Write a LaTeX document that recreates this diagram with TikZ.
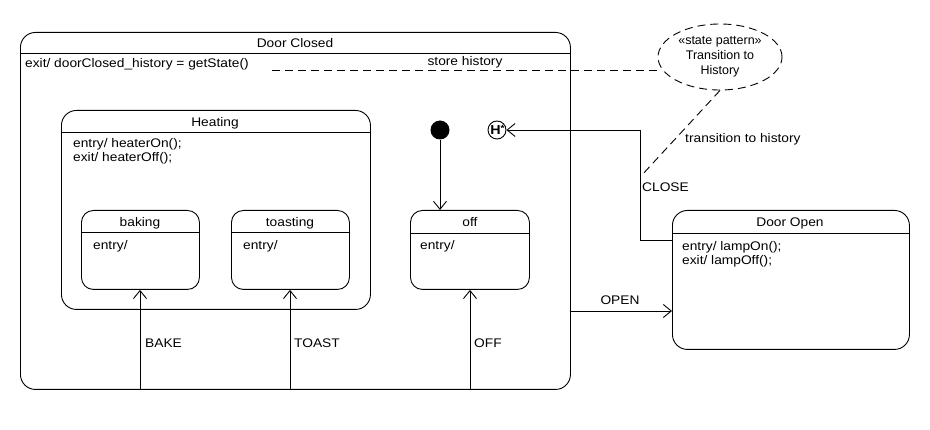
\documentclass[tikz,border=0pt]{standalone}
\usepackage{fontspec}
\setmainfont[FakeStretch=1.1]{Liberation Sans}
\newfontfamily\plainsans{Liberation Sans}
\usetikzlibrary{arrows.meta,shapes.geometric}
\begin{document}
\begin{tikzpicture}[x=1pt,y=-1pt,
  every node/.style={font=\fontsize{12.5}{14.5}\selectfont},
  box/.style={draw,line width=0.9pt,anchor=north west,inner sep=0pt},
  lbl/.style={inner sep=0pt,anchor=base west},
  ttl/.style={inner sep=0pt,anchor=base},
  ln/.style={line width=0.9pt},
  arr/.style={line width=0.9pt,-{Straight Barb[length=8pt,width=13pt,line width=0.9pt]}},
  dsh/.style={line width=0.9pt,dash pattern=on 8pt off 5pt}]
\useasboundingbox (0,0) rectangle (930,430);
% Door Closed
\node[box,rounded corners=15pt,minimum width=550pt,minimum height=357pt] (dc) at (20,32) {};
\draw[ln] ([yshift=-21pt]dc.north west) -- ([yshift=-21pt]dc.north east);
\node[ttl] (dct) at (295,47.5) {Door Closed};
\node[lbl] (dcx) at (25,67.5) {exit/ doorClosed\_history = getState()};
% Heating
\node[box,rounded corners=15pt,minimum width=309pt,minimum height=199pt] (heat) at (61,110) {};
\draw[ln] ([yshift=-22pt]heat.north west) -- ([yshift=-22pt]heat.north east);
\node[ttl] (heatt) at (215,126.5) {Heating};
\node[lbl] (heat1) at (73,147.5) {entry/ heaterOn();};
\node[lbl] (heat2) at (73,161.5) {exit/ heaterOff();};
% baking
\node[box,rounded corners=12pt,minimum width=118pt,minimum height=79pt] (bake) at (81,210) {};
\draw[ln] ([yshift=-22pt]bake.north west) -- ([yshift=-22pt]bake.north east);
\node[ttl] (baket) at (140,226.5) {baking};
\node[lbl] (bake1) at (93,249.5) {entry/};
% toasting
\node[box,rounded corners=12pt,minimum width=118pt,minimum height=79pt] (toast) at (231,210) {};
\draw[ln] ([yshift=-22pt]toast.north west) -- ([yshift=-22pt]toast.north east);
\node[ttl] (toastt) at (290,226.5) {toasting};
\node[lbl] (toast1) at (243,249.5) {entry/};
% off
\node[box,rounded corners=12pt,minimum width=119pt,minimum height=79pt] (off) at (410,210) {};
\draw[ln] ([yshift=-23pt]off.north west) -- ([yshift=-23pt]off.north east);
\node[ttl] (offt) at (470,226.5) {off};
\node[lbl] (off1) at (420,249.5) {entry/};
% Door Open
\node[box,rounded corners=15pt,minimum width=237pt,minimum height=139pt] (do) at (672,210) {};
\draw[ln] ([yshift=-23pt]do.north west) -- ([yshift=-23pt]do.north east);
\node[ttl] (dot) at (790,226.5) {Door Open};
\node[lbl] (do1) at (682,250.5) {entry/ lampOn();};
\node[lbl] (do2) at (682,264.5) {exit/ lampOff();};
% initial and history
\node[circle,fill=black,inner sep=0pt,minimum size=19pt] (init) at (440,130) {};
\node[circle,draw,line width=0.9pt,inner sep=0pt,minimum size=18pt,font=\fontsize{13}{13}\selectfont\bfseries] (hist) at (497,130) {\hspace{1pt}H\raisebox{3pt}{\fontsize{9}{9}\selectfont *}};
% note ellipse
\node[ellipse,draw,dsh,minimum width=124pt,minimum height=66pt,inner sep=0pt] (note) at (720,57) {};
\node[inner sep=0pt,align=center,font=\plainsans\fontsize{12.5}{15}\selectfont] (notet) at (note.center) {«state pattern»\\Transition to\\History};
% transitions
\draw[arr] (init) -- (off.north -| init);
\coordinate (closeA) at (640,240);
\coordinate (closeB) at (640,130);
\draw[arr] (do.west |- closeA) -- (closeA) -- (closeB) -- (hist);
\node[lbl] (closel) at (642,192) {CLOSE};
\coordinate (openA) at (570,311);
\draw[arr] (dc.east |- openA) -- (do.west |- openA);
\node[ttl] (openl) at (620,305) {OPEN};
\coordinate (bakeS) at (140,389);
\draw[arr] (bakeS) -- (bake.south -| bakeS);
\node[lbl] (bakel) at (145,348) {BAKE};
\coordinate (toastS) at (290,389);
\draw[arr] (toastS) -- (toast.south -| toastS);
\node[lbl] (toastl) at (294,348) {TOAST};
\coordinate (offS) at (470,389);
\draw[arr] (offS) -- (off.south -| offS);
\node[lbl] (offl) at (474,348) {OFF};
% dashed note links
\coordinate (sh) at (272,70);
\draw[dsh] (sh) -- (note.west |- sh);
\node[ttl] (shl) at (465,65.5) {store history};
\coordinate (th) at (641,176);
\draw[dsh] (note.south) -- (th);
\node[lbl] (thl) at (685,142.5) {transition to history};
\end{tikzpicture}
\end{document}
